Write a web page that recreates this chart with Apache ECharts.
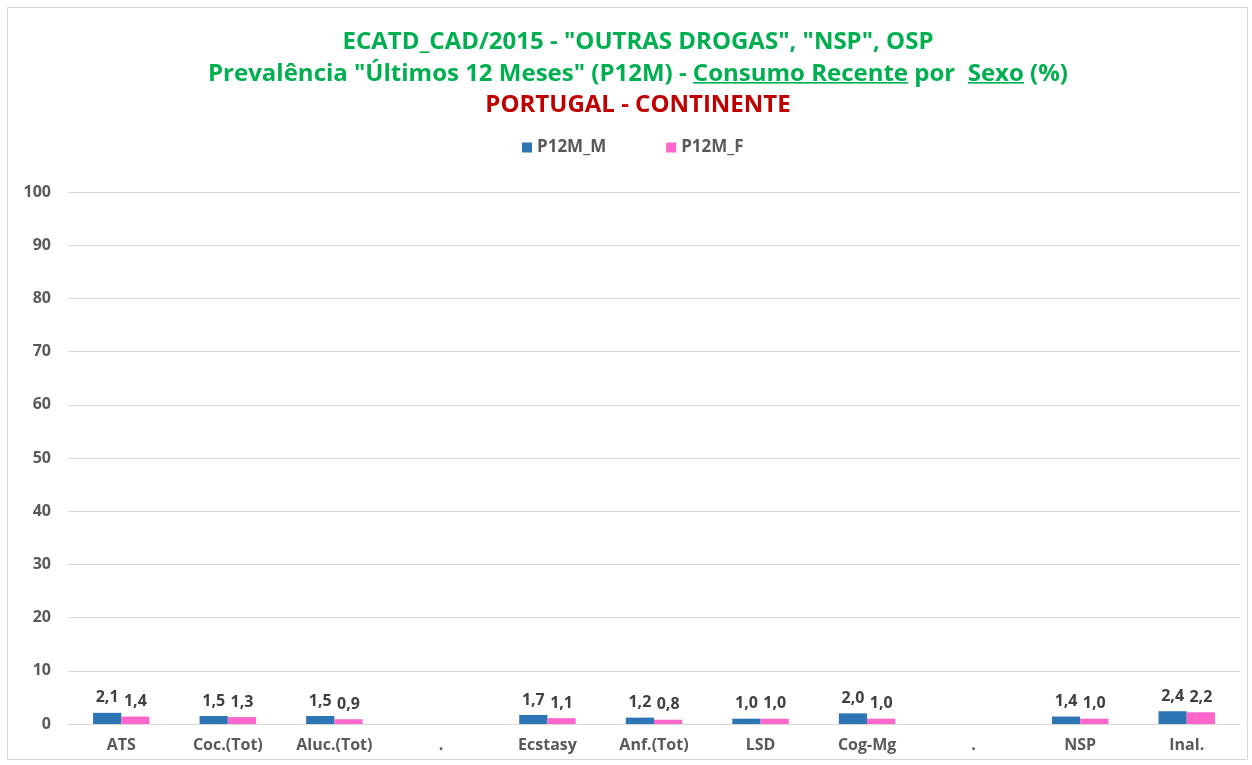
<!DOCTYPE html>
<html><head><meta charset="utf-8">
<script src="https://cdn.jsdelivr.net/npm/echarts@6/dist/echarts.min.js"></script>
<style>html,body{margin:0;padding:0;background:#fff}#c{width:1252px;height:765px}</style>
</head><body><div id="c"></div>
<script>
var categories = ['ATS','Coc.(Tot)','Aluc.(Tot)','.','Ecstasy','Anf.(Tot)','LSD','Cog-Mg','.','NSP','Inal.'];
var maleValues = [2.1,1.5,1.5,null,1.7,1.2,1.0,2.0,null,1.4,2.4];
var femaleValues = [1.4,1.3,0.9,null,1.1,0.8,1.0,1.0,null,1.0,2.2];
var yTicks = [0,10,20,30,40,50,60,70,80,90,100];
var title1 = 'ECATD_CAD/2015 - "OUTRAS DROGAS", "NSP", OSP';
var title2Parts = ['Prevalência "Últimos 12 Meses" (P12M) - ', 'Consumo Recente', ' por  ', 'Sexo', ' (%)'];
var title3 = 'PORTUGAL - CONTINENTE';

var FONT = 'Open Sans';
var TCX = 633;
var LH = 30;
var chart = echarts.init(document.getElementById('c'));
function fmt(p){ return p.value == null ? '' : p.value.toFixed(1).replace('.', ','); }
var labelStyle = {show:true, position:'top', formatter:fmt, color:'#404040', fontWeight:'bold', fontSize:16, fontFamily:FONT, distance:7};

// underline image: transparent strip with a green line near its bottom, stretched over the segment box
var ul = document.createElement('canvas');
ul.width = 4; ul.height = LH;
var uctx = ul.getContext('2d');
uctx.fillStyle = '#00B050';
uctx.fillRect(0, 25, 4, 2);

var p = title2Parts;
var title2Rich = '{n|' + p[0] + '}{u|' + p[1] + '}{n|' + p[2] + '}{u|' + p[3] + '}{n|' + p[4] + '}';
var tStyle = {color:'#00B050', fontSize:24, fontWeight:'bold', fontFamily:FONT};

chart.setOption({
  animation:false,
  title:[
    {text:title1, left:TCX, textAlign:'center', top:25, textStyle:tStyle},
    {text:title2Rich, left:TCX, textAlign:'center', top:54, textStyle:{
      color:'#00B050', fontSize:24, fontWeight:'bold', fontFamily:FONT,
      rich:{
        n:{color:'#00B050', fontSize:24, fontWeight:'bold', fontFamily:FONT, lineHeight:LH},
        u:{color:'#00B050', fontSize:24, fontWeight:'bold', fontFamily:FONT, lineHeight:LH, backgroundColor:{image:ul}}
      }}},
    {text:title3, left:TCX, textAlign:'center', top:88, textStyle:{color:'#C00000', fontSize:24, fontWeight:'bold', fontFamily:FONT}}
  ],
  legend:{top:134, left:517, itemWidth:10, itemHeight:10, itemGap:60, icon:'rect',
    textStyle:{color:'#595959', fontSize:17, fontWeight:'bold', fontFamily:FONT},
    data:['P12M_M','P12M_F']},
  grid:{left:68, right:12, top:192, bottom:41, containLabel:false},
  xAxis:{type:'category', data:categories,
    axisLine:{lineStyle:{color:'#D9D9D9'}}, axisTick:{show:false},
    axisLabel:{color:'#595959', fontSize:16, fontWeight:'bold', fontFamily:FONT, margin:13, interval:0}},
  yAxis:{type:'value', min:yTicks[0], max:yTicks[yTicks.length-1], interval:10,
    axisLine:{show:false}, axisTick:{show:false},
    splitLine:{lineStyle:{color:'#D9D9D9'}},
    axisLabel:{color:'#595959', fontSize:16, fontWeight:'bold', fontFamily:FONT, margin:17}},
  series:[
    {name:'P12M_M', type:'bar', data:maleValues, itemStyle:{color:'#2E75B6'}, barGap:'0%', barCategoryGap:'47%', label:labelStyle},
    {name:'P12M_F', type:'bar', data:femaleValues, itemStyle:{color:'#FF66CC'}, barGap:'0%', barCategoryGap:'47%', label:labelStyle}
  ],
  graphic:[
    {id:'frame', type:'rect', shape:{x:7.5, y:7.5, width:1240, height:752}, style:{fill:null, stroke:'#D9D9D9', lineWidth:1}, silent:true}
  ]
});
</script></body></html>
